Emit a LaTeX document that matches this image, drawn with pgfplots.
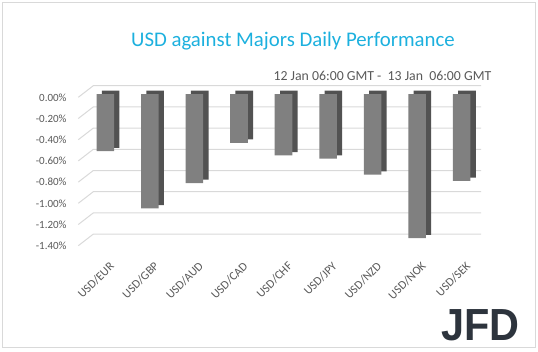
\documentclass[border=0pt]{standalone}
\usepackage{pgfplots}
\pgfplotsset{compat=1.18}
\usepackage{fontspec}
\setmainfont{Carlito}
\newfontfamily\logofont{Liberation Sans}
\definecolor{titlec}{RGB}{28,176,222}
\definecolor{txtc}{RGB}{89,89,89}
\definecolor{gridc}{RGB}{217,217,217}
\definecolor{frontc}{RGB}{128,128,128}
\definecolor{sidec}{RGB}{82,82,82}
\definecolor{framec}{RGB}{217,217,217}
\definecolor{logoc}{RGB}{45,52,61}
\begin{document}
\begin{tikzpicture}
\path[use as bounding box] (0pt,0pt) rectangle (538pt,-351pt);
\draw[framec, line width=1pt] (2.5pt,-2.5pt) rectangle (535pt,-347pt);
\node[titlec, font=\fontsize{20.8}{24}\selectfont, anchor=base] at (293pt,-46pt) {USD against Majors Daily Performance};
\node[txtc, font=\fontsize{13.8}{16}\selectfont, anchor=base east, inner sep=0pt] at (491.5pt,-80.5pt) {12 Jan 06:00 GMT -\ \ 13 Jan\ \ 06:00 GMT};
\node[logoc, font=\logofont\bfseries\fontsize{45}{45}\selectfont, anchor=base east, inner sep=0pt, xscale=0.92] at (520pt,-340pt) {JFD};
\begin{axis}[
  at={(78.3pt,-253pt)}, anchor=south west,
  scale only axis, width=402.7pt, height=164.3pt,
  xmin=-0.607, xmax=8.434, ymin=-1.5, ymax=0.05,
  clip=false,
  axis line style={draw=none},
  major tick length=0pt,
  xtick={0,1,2,3,4,5,6,7,8},
  xticklabels={USD/EUR,USD/GBP,USD/AUD,USD/CAD,USD/CHF,USD/JPY,USD/NZD,USD/NOK,USD/SEK},
  xticklabel style={rotate=45, anchor=north east, inner sep=0pt, text=txtc, font=\fontsize{12}{14}\selectfont, xshift=-3pt, yshift=-8pt},
  ytick={0,-0.2,-0.4,-0.6,-0.8,-1.0,-1.2,-1.4},
  yticklabels={0.00\%,-0.20\%,-0.40\%,-0.60\%,-0.80\%,-1.00\%,-1.20\%,-1.40\%},
  yticklabel style={anchor=east, inner sep=0pt, text=txtc, font=\fontsize{11}{12}\selectfont, xshift=-11.5pt, yshift=-3.3pt},
]
\pgfplotsinvokeforeach{0,-0.2,-0.4,-0.6,-0.8,-1.0,-1.2,-1.4}{
  \draw[gridc, line width=1pt] ([yshift=-3.3pt]axis cs:-0.607,#1) -- ([xshift=15pt,yshift=8.3pt]axis cs:-0.607,#1) -- ([yshift=8.3pt]axis cs:8.434,#1);
}
\addplot[ybar, bar width=17.6pt, bar shift=0pt, fill=sidec, draw=none, xshift=5.3pt, yshift=3.3pt] coordinates {
 (0,-0.54) (1,-1.08) (2,-0.84) (3,-0.46) (4,-0.58) (5,-0.61) (6,-0.76) (7,-1.36) (8,-0.82)};
\addplot[ybar, bar width=17.6pt, bar shift=0pt, fill=frontc, draw=none] coordinates {
 (0,-0.54) (1,-1.08) (2,-0.84) (3,-0.46) (4,-0.58) (5,-0.61) (6,-0.76) (7,-1.36) (8,-0.82)};
\end{axis}
\end{tikzpicture}
\end{document}
